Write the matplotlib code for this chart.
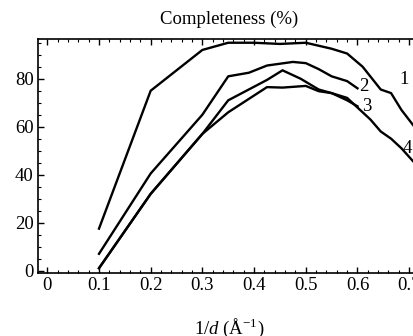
# Completeness (%) gegen 1/d fuer vier Datensaetze
import numpy as np
import matplotlib
matplotlib.use("Agg")
import matplotlib.pyplot as plt
from matplotlib.ticker import MultipleLocator

plt.rcParams['font.family'] = ['Liberation Serif', 'DejaVu Serif']
plt.rcParams['mathtext.fontset'] = 'custom'
plt.rcParams['mathtext.rm'] = 'Liberation Serif'
plt.rcParams['mathtext.it'] = 'Liberation Serif:italic'

# Kurven
x1 = [0.1, 0.2, 0.3, 0.35, 0.4, 0.45, 0.5, 0.55, 0.58, 0.61, 0.645, 0.665, 0.685, 0.71, 0.73]
y1 = [17.5, 75, 92, 95, 95, 94.5, 95, 92.5, 90.5, 85, 75.5, 74, 67, 60, 54]

x2 = [0.1, 0.2, 0.3, 0.35, 0.39, 0.425, 0.475, 0.5, 0.525, 0.55, 0.58, 0.6]
y2 = [7, 40.5, 65, 81, 82.5, 85.5, 87, 86.5, 84, 81, 79, 76]

x3 = [0.1, 0.2, 0.3, 0.35, 0.425, 0.455, 0.49, 0.525, 0.55, 0.58, 0.6]
y3 = [1, 32, 57, 71, 79.5, 83.5, 80, 75.5, 74, 71, 68.5]

x4 = [0.1, 0.2, 0.3, 0.35, 0.425, 0.455, 0.5, 0.525, 0.55, 0.58, 0.605,
      0.625, 0.645, 0.665, 0.685, 0.71, 0.73]
y4 = [1, 32, 57, 66, 76.5, 76.3, 77, 74.8, 74, 72, 67, 63, 58, 55, 51, 45, 40]

labels = ["1", "2", "3", "4"]
label_pos = [(0.69, 79.6), (0.612, 76.7), (0.618, 68.5), (0.697, 50.7)]

fig = plt.figure(figsize=(4.13, 3.36), dpi=100)
ax = fig.add_axes([0.092, 0.1875, 0.925, 0.696])

for xs, ys in [(x1, y1), (x2, y2), (x3, y3), (x4, y4)]:
    ax.plot(xs, ys, color="black", lw=1.7)

for lab, (lx, ly) in zip(labels, label_pos):
    ax.text(lx, ly, lab, fontsize=13.5, ha="center", va="center")

ax.set_xlim(-0.018, 0.721)
ax.set_ylim(-1, 96.5)
ax.set_xticks([0, 0.1, 0.2, 0.3, 0.4, 0.5, 0.6, 0.7])
ax.set_xticklabels(["0", "0.1", "0.2", "0.3", "0.4", "0.5", "0.6", "0.7"])
ax.set_yticks([0, 20, 40, 60, 80])
ax.xaxis.set_minor_locator(MultipleLocator(0.02))
ax.yaxis.set_minor_locator(MultipleLocator(5))
ax.tick_params(which="both", direction="in", top=True, right=True, labelsize=13.5, pad=3)
ax.tick_params(which="major", length=4, width=1)
ax.tick_params(which="minor", length=2, width=0.8)
for s in ax.spines.values():
    s.set_linewidth(1.2)

ax.set_title("Completeness (%)", fontsize=13.5, pad=11)
ax.set_xlabel(r"1/$d$ (Å$^{-1}$)", fontsize=13.5, labelpad=16)

fig.savefig("out.png", dpi=100)
